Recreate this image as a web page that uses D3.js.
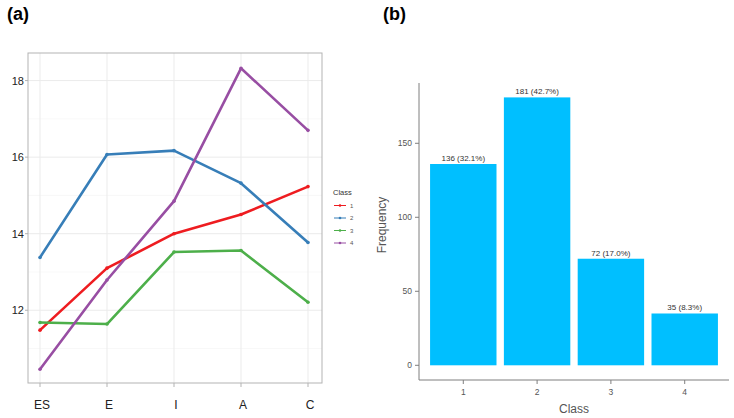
<!DOCTYPE html>
<html>
<head>
<meta charset="utf-8">
<script src="https://cdn.jsdelivr.net/npm/d3@7"></script>
<style>
  body { margin: 0; background: #fff; }
  svg { display: block; font-family: Arial, "Liberation Sans", sans-serif; }
</style>
</head>
<body>
<svg id="chart" width="734" height="418"></svg>
<script>
// panel (a) data
var dims = ["ES", "E", "I", "A", "C"];
var classes = ["1", "2", "3", "4"];
var class1 = [11.48, 13.1, 14.0, 14.5, 15.23];
var class2 = [13.38, 16.07, 16.17, 15.32, 13.77];
var class3 = [11.68, 11.64, 13.52, 13.56, 12.21];
var class4 = [10.46, 12.79, 14.85, 18.32, 16.7];
var lineColors = ["#ee1c20", "#377eb8", "#4daf4a", "#984ea3"];
var yTicksA = [12, 14, 16, 18];
var yMinorA = [11, 13, 15, 17];

// panel (b) data
var barClasses = ["1", "2", "3", "4"];
var counts = [136, 181, 72, 35];
var pctLabels = ["136 (32.1%)", "181 (42.7%)", "72 (17.0%)", "35 (8.3%)"];
var yTicksB = [0, 50, 100, 150];

const svg = d3.select("#chart");

// ---------- panel (a) ----------
var a = { left: 28, right: 322, top: 53, bottom: 383 };
var xA = d3.scalePoint().domain(dims).range([40, 308]);
var yA = d3.scaleLinear().domain([10.1, 18.72]).range([a.bottom, a.top]);

const gA = svg.append("g");

gA.append("text")
    .attr("x", 7).attr("y", 20)
    .style("font-size", "18px").style("font-weight", "bold")
    .text("(a)");

// grid
gA.selectAll("line.minor").data(yMinorA).enter().append("line")
    .attr("x1", a.left).attr("x2", a.right)
    .attr("y1", d => yA(d)).attr("y2", d => yA(d))
    .attr("stroke", "#f3f3f3").attr("stroke-width", 0.6);
gA.selectAll("line.major").data(yTicksA).enter().append("line")
    .attr("x1", a.left).attr("x2", a.right)
    .attr("y1", d => yA(d)).attr("y2", d => yA(d))
    .attr("stroke", "#ebebeb").attr("stroke-width", 1);
gA.selectAll("line.vgrid").data(dims).enter().append("line")
    .attr("x1", d => xA(d)).attr("x2", d => xA(d))
    .attr("y1", a.top).attr("y2", a.bottom)
    .attr("stroke", "#ebebeb").attr("stroke-width", 1);

// frame
gA.append("rect")
    .attr("x", a.left).attr("y", a.top)
    .attr("width", a.right - a.left).attr("height", a.bottom - a.top)
    .attr("fill", "none").attr("stroke", "#b3b3b3").attr("stroke-width", 1);

// ticks + labels
gA.selectAll("line.xt").data(dims).enter().append("line")
    .attr("x1", d => xA(d)).attr("x2", d => xA(d))
    .attr("y1", a.bottom).attr("y2", a.bottom + 4)
    .attr("stroke", "#b3b3b3");
gA.selectAll("text.xl").data(dims).enter().append("text")
    .attr("x", d => xA(d) + 2).attr("y", 409)
    .attr("text-anchor", "middle")
    .style("font-size", "12px").style("fill", "#222")
    .text(d => d);
gA.selectAll("line.yt").data(yTicksA).enter().append("line")
    .attr("x1", a.left - 3).attr("x2", a.left)
    .attr("y1", d => yA(d)).attr("y2", d => yA(d))
    .attr("stroke", "#b3b3b3");
gA.selectAll("text.yl").data(yTicksA).enter().append("text")
    .attr("x", 24).attr("y", d => yA(d) + 4)
    .attr("text-anchor", "end")
    .style("font-size", "11px").style("fill", "#222")
    .text(d => d);

// lines
var series = [class1, class2, class3, class4];
var line = d3.line().x((d, i) => xA(dims[i])).y(d => yA(d));
series.forEach((s, k) => {
    gA.append("path")
        .attr("d", line(s))
        .attr("fill", "none")
        .attr("stroke", lineColors[k])
        .attr("stroke-width", 2.6)
        .attr("stroke-linejoin", "round");
    gA.selectAll(null).data(s).enter().append("circle")
        .attr("cx", (d, i) => xA(dims[i])).attr("cy", d => yA(d))
        .attr("r", 1.8).attr("fill", lineColors[k]);
});

// legend
const leg = gA.append("g");
leg.append("text").attr("x", 333).attr("y", 195)
    .style("font-size", "7.5px").style("fill", "#333").text("Class");
classes.forEach((c, k) => {
    var yy = 205.5 + k * 12.5;
    leg.append("line").attr("x1", 334).attr("x2", 346)
        .attr("y1", yy).attr("y2", yy)
        .attr("stroke", lineColors[k]).attr("stroke-width", 1);
    leg.append("circle").attr("cx", 340).attr("cy", yy).attr("r", 1.3)
        .attr("fill", lineColors[k]);
    leg.append("text").attr("x", 350).attr("y", yy + 2.2)
        .style("font-size", "6px").style("fill", "#555").text(c);
});

// ---------- panel (b) ----------
var b = { left: 419, right: 729, top: 83, bottom: 380 };
var xB = d3.scaleBand().domain(barClasses).range([b.left, b.right])
    .paddingInner(0.1).paddingOuter(0.15);
var yB = d3.scaleLinear().domain([0, 181]).range([365.3, 97.4]);

const gB = svg.append("g");
gB.append("text")
    .attr("x", 383).attr("y", 20)
    .style("font-size", "18px").style("font-weight", "bold")
    .text("(b)");

gB.selectAll("rect.bar").data(counts).enter().append("rect")
    .attr("x", (d, i) => xB(barClasses[i]))
    .attr("width", xB.bandwidth())
    .attr("y", d => yB(d))
    .attr("height", d => yB(0) - yB(d))
    .attr("fill", "#00bfff");

gB.selectAll("text.bl").data(counts).enter().append("text")
    .attr("x", (d, i) => xB(barClasses[i]) + xB.bandwidth() / 2)
    .attr("y", d => yB(d) - 3)
    .attr("text-anchor", "middle")
    .style("font-size", "8px").style("fill", "#333")
    .text((d, i) => pctLabels[i]);

// axes
gB.append("line").attr("x1", b.left).attr("x2", b.left)
    .attr("y1", b.top).attr("y2", b.bottom)
    .attr("stroke", "#7f7f7f").attr("stroke-width", 1);
gB.append("line").attr("x1", b.left).attr("x2", b.right)
    .attr("y1", b.bottom).attr("y2", b.bottom)
    .attr("stroke", "#7f7f7f").attr("stroke-width", 1);

gB.selectAll("line.yt").data(yTicksB).enter().append("line")
    .attr("x1", b.left - 4).attr("x2", b.left)
    .attr("y1", d => yB(d)).attr("y2", d => yB(d))
    .attr("stroke", "#7f7f7f");
gB.selectAll("text.yl").data(yTicksB).enter().append("text")
    .attr("x", b.left - 7).attr("y", d => yB(d) + 3)
    .attr("text-anchor", "end")
    .style("font-size", "8.5px").style("fill", "#555")
    .text(d => d);
gB.selectAll("line.xt").data(barClasses).enter().append("line")
    .attr("x1", d => xB(d) + xB.bandwidth() / 2).attr("x2", d => xB(d) + xB.bandwidth() / 2)
    .attr("y1", b.bottom).attr("y2", b.bottom + 4)
    .attr("stroke", "#7f7f7f");
gB.selectAll("text.xl").data(barClasses).enter().append("text")
    .attr("x", d => xB(d) + xB.bandwidth() / 2).attr("y", 395)
    .attr("text-anchor", "middle")
    .style("font-size", "8.5px").style("fill", "#555")
    .text(d => d);

gB.append("text")
    .attr("x", 574).attr("y", 413)
    .attr("text-anchor", "middle")
    .style("font-size", "12px").style("fill", "#555")
    .text("Class");
gB.append("text")
    .attr("transform", "translate(386,225) rotate(-90)")
    .attr("text-anchor", "middle")
    .style("font-size", "12px").style("fill", "#555")
    .text("Frequency");
</script>
</body>
</html>
